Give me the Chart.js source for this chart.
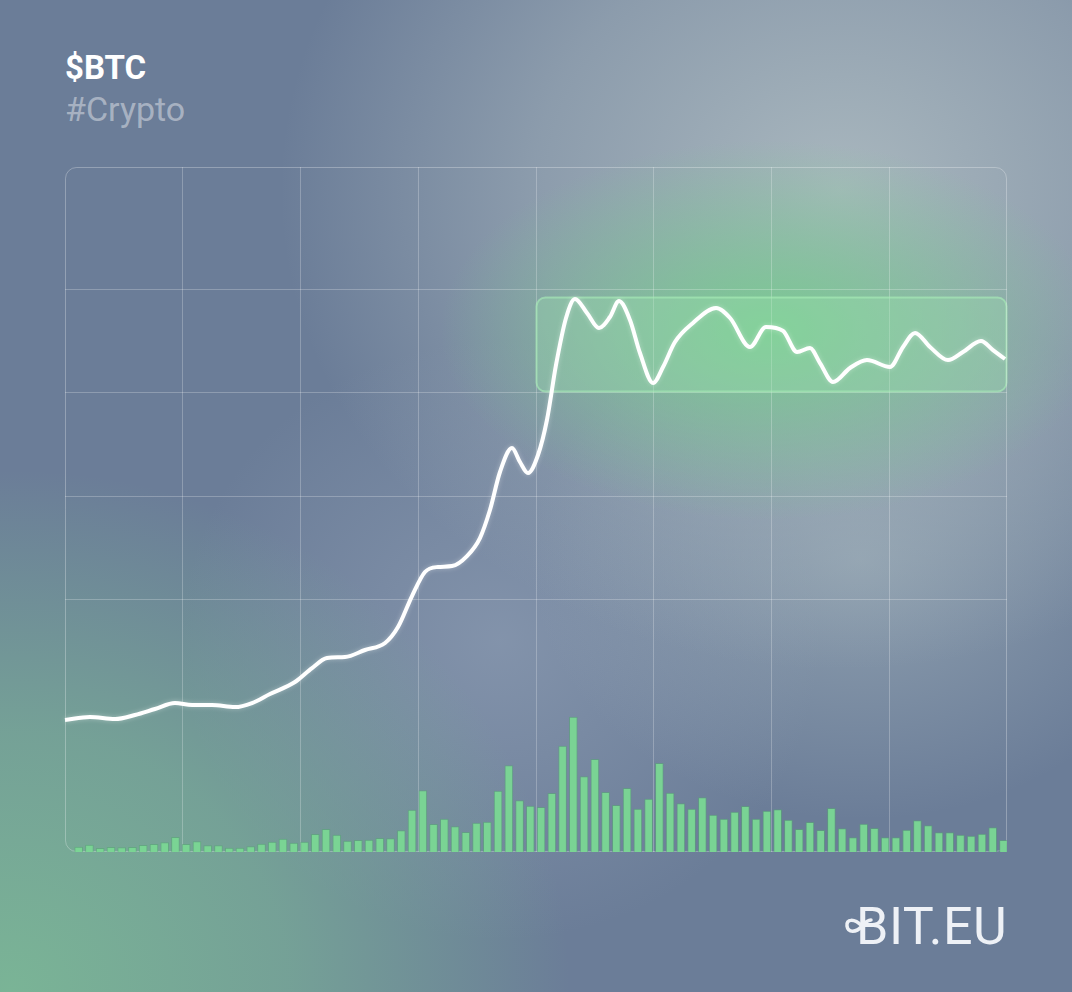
<!DOCTYPE html>
<html>
<head>
<meta charset="utf-8">
<script src="https://cdn.jsdelivr.net/npm/chart.js@4.4.1/dist/chart.umd.min.js"></script>
<style>
  html, body { margin: 0; padding: 0; }
  body {
    width: 1072px; height: 992px; overflow: hidden; position: relative;
    background-color: #6b7d98;
    background-image:
      radial-gradient(ellipse 330px 190px at 770px 330px, rgba(118,205,142,0.9), rgba(118,205,142,0.45) 50%, rgba(118,205,142,0) 100%),
      radial-gradient(ellipse 560px 480px at 840px 190px, rgba(172,186,192,0.95), rgba(172,186,192,0.5) 55%, rgba(172,186,192,0) 100%),
      radial-gradient(ellipse 330px 260px at 860px 560px, rgba(165,182,190,0.6), rgba(165,182,190,0) 100%),
      radial-gradient(ellipse 560px 520px at 10px 990px, rgba(122,180,150,1), rgba(122,180,150,0.65) 50%, rgba(122,180,150,0) 100%),
      radial-gradient(ellipse 320px 300px at 500px 640px, rgba(150,165,186,0.55), rgba(150,165,186,0) 100%);
    font-family: Roboto, "Noto Sans", sans-serif;
  }
  #wrap { position: absolute; left: 0; top: 0; width: 1072px; height: 992px; }
  .t1 { position: absolute; left: 65px; top: 51px; font-size: 33px; line-height: 1; font-weight: 700; color: #ffffff; }
  .t2 { position: absolute; left: 65px; top: 92px; font-size: 34px; line-height: 1; font-weight: 400; color: rgba(255,255,255,0.42); }
  .logo { position: absolute; left: 856px; top: 901px; font-size: 52px; line-height: 1; font-weight: 400; color: #eef1f6; letter-spacing: 0.5px; }
  .loop { position: absolute; left: 840px; top: 910px; }
</style>
</head>
<body>
<div class="t1">$BTC</div>
<div class="t2">#Crypto</div>
<div id="wrap"><canvas id="c" width="1072" height="992"></canvas></div>
<svg class="loop" width="40" height="34" viewBox="0 0 40 34"><path d="M22 16 C 14 8, 6 9, 7 16 C 8 23, 16 23, 22 16 C 27 10, 31 10, 31 10" fill="none" stroke="#eef1f6" stroke-width="3.5" stroke-linecap="round"/></svg>
<div class="logo">BIT.EU</div>
<script>
// ---- data ----
// price line: position along the time axis (0..8 grid columns) and price level
const priceX = [0.000,0.212,0.425,0.594,0.764,0.934,1.079,1.248,1.444,1.588,1.741,1.953,2.098,2.225,2.378,2.548,2.718,2.828,2.947,3.057,3.168,3.287,3.414,3.524,3.609,3.694,3.796,3.864,3.932,4.017,4.093,4.170,4.255,4.331,4.433,4.535,4.628,4.705,4.798,4.883,4.994,5.079,5.180,5.333,5.529,5.648,5.817,5.953,6.098,6.217,6.327,6.412,6.522,6.667,6.811,7.006,7.117,7.219,7.346,7.499,7.626,7.779,7.881,7.983];
const priceY = [18.25,18.54,18.35,18.74,19.32,19.90,19.71,19.71,19.51,19.90,20.78,21.94,23.30,24.27,24.37,25.05,25.73,27.28,30.29,32.62,33.11,33.20,34.17,35.92,38.64,42.33,44.66,43.30,42.23,43.98,47.38,52.72,57.28,59.13,57.77,56.31,57.38,58.93,57.09,53.88,50.97,52.52,54.95,56.80,58.25,57.28,54.47,56.41,56.02,53.98,54.37,52.91,51.07,52.43,53.20,52.52,54.47,55.83,54.47,53.20,53.98,55.05,54.17,53.30];
// volume bars, one per period (87 periods)
const volume = [5,7,3.7,4.7,4.3,4.7,6.7,7.7,9.3,14.7,7.7,10.3,6.3,6.3,4,4,5.3,8,10,13,9,10,17.7,22.7,17,11,11.7,12,13.7,13.3,21.3,42,61.3,27.7,33,25.3,19.7,29,30,61,86.3,51.3,46,44.7,58.7,106,135,75.3,92.7,59.7,46.7,63.7,43,53,88.7,59,48.3,43,54.3,37,33,40,45.7,33,41,42.3,32,22.7,29.7,21.7,43.7,23.3,14.3,28,23.7,14.3,14.3,22,31.3,26.3,19.3,19.3,17,16,18,24.3,11.7];
// horizontal grid levels and the highlighted consolidation range
const gridLevels = [30, 40, 50, 60];
const rangeX = [4, 8];
const rangeY = [50.19, 59.32];

const lineData = priceX.map((x, i) => ({ x: x, y: priceY[i] }));
const volData = volume.map((v, i) => ({ x: i, y: v }));

const frame = {
  id: 'frame',
  beforeDatasetsDraw(chart) {
    const { ctx, chartArea: a, scales } = chart;
    ctx.save();
    const x0 = scales.x.getPixelForValue(rangeX[0]);
    const x1 = scales.x.getPixelForValue(rangeX[1]);
    const y0 = scales.y.getPixelForValue(rangeY[1]);
    const y1 = scales.y.getPixelForValue(rangeY[0]);
    ctx.beginPath();
    ctx.roundRect(x0 + 0.5, y0 + 0.5, x1 - x0 - 1, y1 - y0, 9);
    ctx.fillStyle = 'rgba(155,228,175,0.32)';
    ctx.fill();
    ctx.lineWidth = 2;
    ctx.strokeStyle = 'rgba(170,240,185,0.6)';
    ctx.stroke();
    ctx.beginPath();
    ctx.roundRect(a.left + 0.5, a.top + 0.5, a.width - 1, a.height - 1, 11);
    ctx.lineWidth = 1;
    ctx.strokeStyle = 'rgba(255,255,255,0.28)';
    ctx.stroke();
    ctx.restore();
  },
  beforeDatasetDraw(chart, args) {
    if (args.index === 0) {
      const ctx = chart.ctx;
      ctx.save();
      ctx.shadowColor = 'rgba(255,255,255,0.35)';
      ctx.shadowBlur = 5;
    }
  },
  afterDatasetDraw(chart, args) {
    if (args.index === 0) chart.ctx.restore();
  }
};

new Chart(document.getElementById('c'), {
  type: 'line',
  data: {
    datasets: [
      {
        type: 'line', data: lineData, xAxisID: 'x', yAxisID: 'y', order: 0,
        borderColor: '#ffffff', borderWidth: 4, pointRadius: 0,
        cubicInterpolationMode: 'monotone', fill: false, clip: 6
      },
      {
        type: 'bar', data: volData, xAxisID: 'xv', yAxisID: 'yv', order: 1,
        backgroundColor: 'rgba(122,214,148,0.97)', borderColor: 'rgba(85,170,115,0.55)',
        borderWidth: 1, barThickness: 8
      }
    ]
  },
  options: {
    responsive: false, animation: false, devicePixelRatio: 1,
    layout: { padding: { left: 65, right: 65, top: 167, bottom: 140 } },
    plugins: { legend: { display: false }, tooltip: { enabled: false } },
    scales: {
      x: {
        type: 'linear', min: 0, max: 8, offset: false,
        ticks: { display: false, stepSize: 1 },
        grid: { drawTicks: false, lineWidth: 1,
          color: c => (c.tick && (c.tick.value === 0 || c.tick.value === 8)) ? 'rgba(0,0,0,0)' : 'rgba(255,255,255,0.24)' },
        border: { display: false }
      },
      y: {
        type: 'linear', min: 5.44, max: 71.94,
        ticks: { display: false },
        afterBuildTicks: s => { s.ticks = gridLevels.map(v => ({ value: v })); },
        grid: { drawTicks: false, lineWidth: 1, color: 'rgba(255,255,255,0.24)' },
        border: { display: false }
      },
      xv: { type: 'linear', min: -0.9, max: 86.7, offset: false, display: false },
      yv: { type: 'linear', min: 0, max: 685, display: false }
    }
  },
  plugins: [frame]
});
</script>
</body>
</html>
